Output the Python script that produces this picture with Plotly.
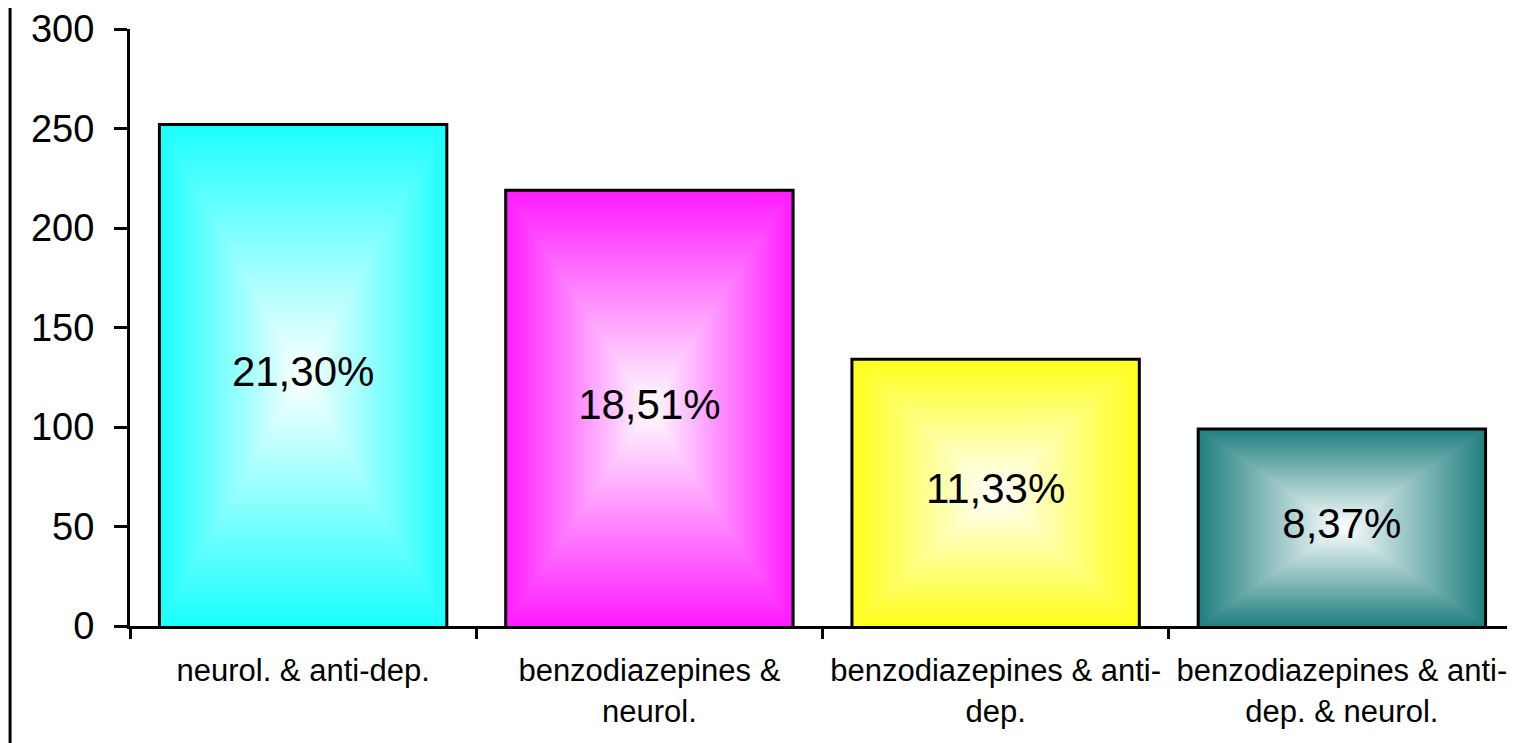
import plotly.graph_objects as go

# ---- data ----
categories = [
    "neurol. & anti-dep.",
    "benzodiazepines &<br>neurol.",
    "benzodiazepines & anti-<br>dep.",
    "benzodiazepines & anti-<br>dep. & neurol.",
]
counts = [252, 219, 134, 99]
shares = ["21,30%", "18,51%", "11,33%", "8,37%"]
colors = ["#1affff", "#ff1aff", "#ffff1a", "#1f7f7f"]
y_ticks = [0, 50, 100, 150, 200, 250, 300]

BAR_W = 0.83
FONT = "Liberation Sans, Arial, sans-serif"

xs = list(range(len(categories)))
bounds = [x - 0.5 for x in xs] + [xs[-1] + 0.5]

fig = go.Figure()

# base bars
fig.add_trace(go.Bar(
    x=xs, y=counts, width=BAR_W,
    marker=dict(color=colors, line=dict(width=0)),
    hoverinfo="skip", showlegend=False,
))

# "from centre" gradient: horizontal ramp over the whole bar, then top/bottom wedges
for i, (v, c) in enumerate(zip(counts, colors)):
    left, right = i - BAR_W / 2, i + BAR_W / 2
    mid = v / 2
    common = dict(mode="lines", line=dict(width=0), fill="toself",
                  hoverinfo="skip", showlegend=False)
    fig.add_trace(go.Scatter(
        x=[left, right, right, left, left], y=[0, 0, v, v, 0],
        fillgradient=dict(type="horizontal", start=left, stop=right,
                          colorscale=[[0, c], [0.5, "white"], [1, c]]),
        **common))
    fig.add_trace(go.Scatter(
        x=[left, right, i, left], y=[v, v, mid, v],
        fillgradient=dict(type="vertical", start=mid, stop=v,
                          colorscale=[[0, "white"], [1, c]]),
        **common))
    fig.add_trace(go.Scatter(
        x=[left, right, i, left], y=[0, 0, mid, 0],
        fillgradient=dict(type="vertical", start=0, stop=mid,
                          colorscale=[[0, c], [1, "white"]]),
        **common))
    # outline
    fig.add_trace(go.Scatter(
        x=[left, left, right, right], y=[0, v, v, 0],
        mode="lines", line=dict(color="black", width=3),
        hoverinfo="skip", showlegend=False))

# percentage labels
fig.add_trace(go.Scatter(
    x=xs, y=[v / 2 for v in counts], text=shares, mode="text",
    textfont=dict(size=42, color="black", family=FONT),
    hoverinfo="skip", showlegend=False,
))

# left frame line
fig.add_shape(type="line", xref="paper", yref="paper",
              x0=-0.0866, x1=-0.0866, y0=-0.3, y1=1.2,
              line=dict(color="black", width=3))

fig.update_layout(
    width=1507, height=735,
    margin=dict(l=122, r=0, t=21, b=117),
    paper_bgcolor="white", plot_bgcolor="white",
    font=dict(family=FONT, color="black"),
    bargap=0,
)
fig.update_xaxes(
    range=[-0.5, 3.5], tickmode="array", tickvals=xs, ticktext=categories,
    ticks="", showline=True, linecolor="black", linewidth=3,
    showgrid=False, zeroline=False,
    tickfont=dict(size=31, color="black"), ticklabelstandoff=15,
    minor=dict(tickmode="array", tickvals=bounds, ticks="outside",
               ticklen=10, tickwidth=3, tickcolor="black"),
)
fig.update_yaxes(
    range=[0, 300], tickmode="array", tickvals=y_ticks,
    ticks="outside", ticklen=13, tickwidth=3, tickcolor="black",
    showline=True, linecolor="black", linewidth=3,
    showgrid=False, zeroline=False,
    tickfont=dict(size=38, color="black"), ticklabelstandoff=12,
)

fig.write_html("out.html")
